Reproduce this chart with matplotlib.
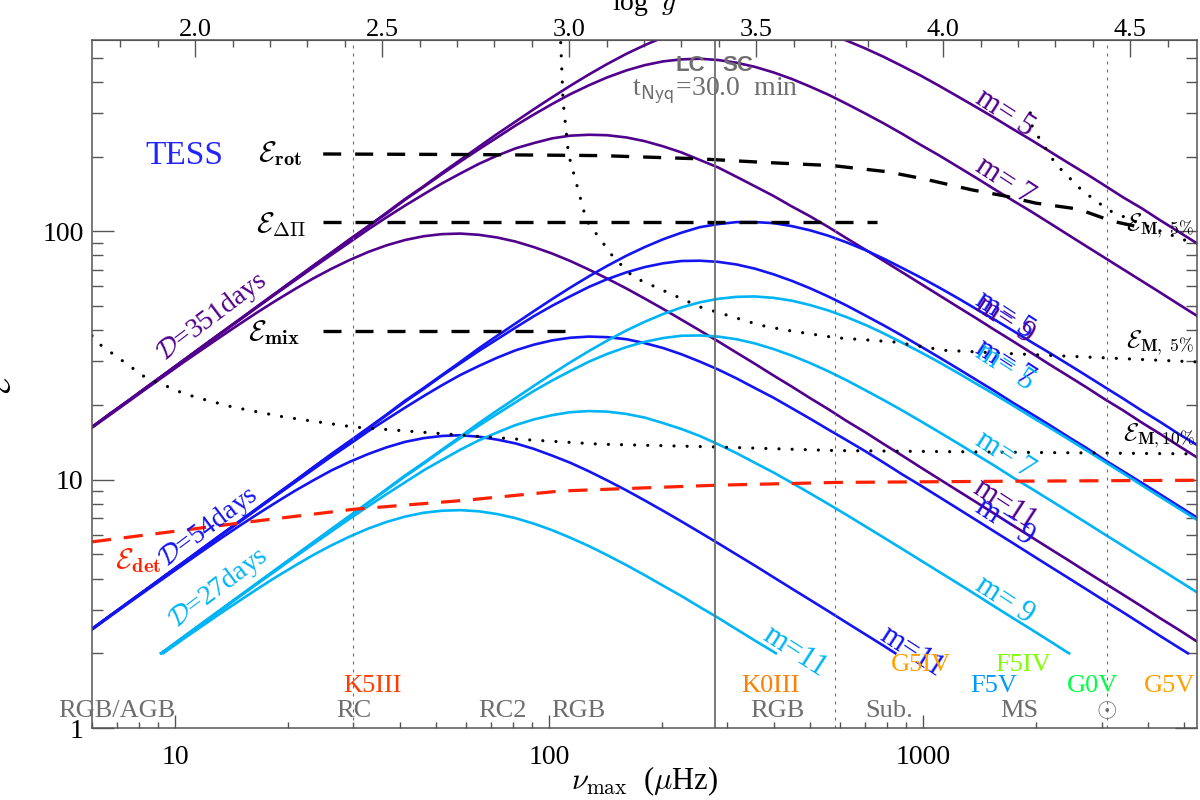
import numpy as np
import matplotlib
matplotlib.use('Agg')
import matplotlib.pyplot as plt
from matplotlib.ticker import FixedLocator, MultipleLocator, NullFormatter, FormatStrFormatter, LogLocator

plt.rcParams['font.family'] = ['Liberation Serif', 'DejaVu Serif']
plt.rcParams['mathtext.fontset'] = 'cm'

PURPLE = '#50008c'
BLUE = '#1414f0'
CYAN = '#00b4f5'
GRAY = '#6e6e6e'
AXC = '#555555'

# nu_max grid (muHz) on which the E curves were read
nu_grid = [6, 6.72, 7.53, 8.43, 9.44, 10.6, 11.8, 13.3, 14.9, 16.6, 18.6, 20.9, 23.4, 26.2, 29.3,
           32.9, 36.8, 41.2, 46.2, 51.7, 57.9, 64.9, 72.7, 81.4, 91.2, 102, 114, 128, 143, 161,
           180, 202, 226, 253, 283, 317, 355, 398, 446, 499, 559, 626, 702, 786, 880, 986, 1100,
           1240, 1390, 1550, 1740, 1950, 2180, 2440, 2740, 3060, 3430, 3840, 4300, 4820, 5400]

# D = 351 days
E_351_m5 = [16.3, 18.5, 20.9, 23.7, 26.8, 30.5, 34.3, 39.1, 44.3, 49.9, 56.5, 64.2, 72.7, 82.2, 92.9,
            105, 119, 135, 152, 172, 194, 219, 247, 277, 311, 347, 386, 429, 472, 519, 562, 605, 642,
            673, 696, 709, 711, 702, 684, 657, 624, 586, 545, 504, 463, 424, 387, 349, 316, 287, 258,
            233, 210, 189, 170, 153, 137, 124, 111, 99.7, 89.5]
E_351_m7 = [16.3, 18.5, 20.9, 23.7, 26.8, 30.4, 34.3, 39.1, 44.2, 49.8, 56.4, 64.1, 72.5, 82, 92.6,
            105, 118, 134, 151, 170, 191, 214, 239, 267, 296, 326, 357, 388, 417, 445, 467, 484, 493,
            496, 490, 478, 460, 437, 411, 383, 355, 326, 298, 272, 247, 223, 203, 182, 164, 148, 133,
            120, 108, 97, 86.9, 78.3, 70.3, 63.2, 56.8, 50.9, 45.7]
E_351_m9 = [16.3, 18.4, 20.9, 23.6, 26.8, 30.4, 34.2, 38.9, 44, 49.5, 56, 63.4, 71.5, 80.5, 90.4,
            102, 114, 127, 141, 156, 171, 187, 202, 216, 227, 237, 243, 245, 244, 239, 231, 220, 208,
            194, 181, 166, 152, 139, 126, 115, 104, 93.6, 84.3, 76, 68.4, 61.5, 55.5, 49.6, 44.6,
            40.2, 36.1, 32.4, 29.1, 26.2, 23.5, 21.1, 19, 17, 15.3, 13.7, 12.3]
E_351_m11 = [16.2, 18.3, 20.7, 23.4, 26.4, 29.9, 33.4, 37.8, 42.4, 47.2, 52.6, 58.5, 64.6, 70.7, 76.7,
             82.7, 87.9, 92.3, 95.6, 97.5, 98, 96.9, 94.5, 91, 86.4, 81.4, 76, 70.1, 64.6, 58.9, 53.7,
             48.7, 44.1, 39.9, 36.1, 32.5, 29.3, 26.3, 23.7, 21.3, 19.2, 17.2, 15.5, 13.9, 12.5, 11.2,
             10.1, 9.02, 8.1, 7.3, 6.54, 5.87, 5.28, 4.75, 4.25, 3.83, 3.44, 3.09, 2.77, 2.49, 2.23]

# D = 54 days
E_54_m5 = [2.51, 2.84, 3.22, 3.64, 4.13, 4.68, 5.28, 6.02, 6.82, 7.68, 8.70, 9.88, 11.2, 12.7, 14.3,
           16.2, 18.3, 20.8, 23.4, 26.4, 29.8, 33.8, 38.0, 42.6, 47.8, 53.4, 59.4, 66.0, 72.6, 79.8,
           86.4, 93.0, 98.8, 104, 107, 109, 109, 108, 105, 101, 96.0, 90.2, 84.0, 77.6, 71.2, 65.2,
           59.6, 53.8, 48.6, 44.2, 39.8, 35.8, 32.4, 29.2, 26.2, 23.6, 21.2, 19.0, 17.1, 15.3, 13.8]
E_54_m7 = [2.51, 2.84, 3.22, 3.64, 4.12, 4.68, 5.26, 6.00, 6.80, 7.66, 8.68, 9.86, 11.2, 12.6, 14.2,
           16.1, 18.2, 20.6, 23.2, 26.2, 29.4, 33.0, 36.8, 41.0, 45.6, 50.2, 54.8, 59.8, 64.2, 68.4,
           71.8, 74.4, 76.0, 76.2, 75.4, 73.6, 70.8, 67.2, 63.2, 59.0, 54.6, 50.2, 45.8, 41.8, 38.0,
           34.4, 31.2, 28.0, 25.2, 22.8, 20.4, 18.4, 16.6, 14.9, 13.4, 12.0, 10.8, 9.72, 8.74, 7.84, 7.04]
E_54_m9 = [2.5, 2.84, 3.21, 3.64, 4.12, 4.67, 5.25, 5.99, 6.77, 7.61, 8.61, 9.75, 11, 12.4, 13.9,
           15.7, 17.5, 19.5, 21.7, 24, 26.4, 28.7, 31, 33.2, 35, 36.4, 37.3, 37.7, 37.5, 36.8, 35.5,
           33.9, 32, 29.9, 27.8, 25.6, 23.4, 21.4, 19.4, 17.6, 15.9, 14.4, 13, 11.7, 10.5, 9.47, 8.55,
           7.64, 6.86, 6.19, 5.55, 4.98, 4.48, 4.03, 3.61, 3.25, 2.92, 2.62, 2.35, 2.11]
E_54_m11 = [2.49, 2.82, 3.19, 3.6, 4.06, 4.59, 5.14, 5.82, 6.53, 7.26, 8.09, 9.01, 9.93, 10.9, 11.8,
            12.7, 13.5, 14.2, 14.7, 15, 15.1, 14.9, 14.5, 14, 13.3, 12.5, 11.7, 10.8, 9.94, 9.06, 8.26,
            7.49, 6.79, 6.14, 5.55, 5, 4.51, 4.05, 3.64, 3.28, 2.95, 2.65, 2.38, 2.14]

# D = 27 days (from grid point 4 onwards)
E_27_m5 = [2.06, 2.34, 2.64, 3.01, 3.41, 3.84, 4.35, 4.94, 5.59, 6.33, 7.15, 8.11, 9.16, 10.4, 11.7,
           13.2, 14.9, 16.9, 19, 21.3, 23.9, 26.7, 29.7, 33, 36.3, 39.9, 43.2, 46.5, 49.4, 51.8, 53.5,
           54.5, 54.7, 54, 52.6, 50.5, 48, 45.1, 42, 38.8, 35.6, 32.6, 29.8, 26.9, 24.3, 22.1, 19.9,
           17.9, 16.2, 14.6, 13.1, 11.8, 10.6, 9.51, 8.54, 7.67, 6.89]
E_27_m7 = [2.06, 2.34, 2.63, 3, 3.4, 3.83, 4.34, 4.93, 5.58, 6.31, 7.12, 8.07, 9.11, 10.3, 11.6, 13.1,
           14.7, 16.5, 18.4, 20.5, 22.8, 25.1, 27.4, 29.9, 32.1, 34.2, 35.9, 37.2, 38, 38.1, 37.7,
           36.8, 35.4, 33.6, 31.6, 29.5, 27.3, 25.1, 22.9, 20.9, 19, 17.2, 15.6, 14, 12.6, 11.4, 10.2,
           9.2, 8.29, 7.46, 6.69, 6.02, 5.41, 4.86, 4.37, 3.92, 3.52]
E_27_m9 = [2.06, 2.34, 2.63, 2.99, 3.39, 3.81, 4.3, 4.88, 5.5, 6.19, 6.96, 7.83, 8.75, 9.76, 10.9, 12,
           13.2, 14.4, 15.5, 16.6, 17.5, 18.2, 18.7, 18.9, 18.8, 18.4, 17.8, 16.9, 16, 15, 13.9, 12.8,
           11.7, 10.7, 9.71, 8.81, 7.97, 7.2, 6.48, 5.84, 5.26, 4.73, 4.27, 3.82, 3.43, 3.09, 2.77,
           2.49, 2.24, 2.01]
E_27_m11 = [2.03, 2.3, 2.57, 2.91, 3.26, 3.63, 4.05, 4.5, 4.97, 5.44, 5.9, 6.36, 6.76, 7.1, 7.36, 7.5,
            7.54, 7.46, 7.27, 7, 6.65, 6.26, 5.84, 5.4, 4.97, 4.53, 4.13, 3.74, 3.4, 3.07, 2.78, 2.5,
            2.25, 2.03]

# curves stop at E = 2; nu_max where they reach it
E_CUT = 2.0
nu_start_27 = [9.18, 9.18, 9.19, 9.30]
nu_end_27 = [None, None, 2458, 404]
nu_end_54 = [None, None, 5104, 843]

nu_rot = [24.9, 60, 137, 253, 367, 574, 800, 1000, 1350, 1650, 2000, 2600, 3200, 3800]
E_rot = [205, 204, 202, 196, 190, 184, 174, 163, 147, 139, 130, 123, 110, 104]
nu_dpi = [24.9, 751]
E_dpi = [109, 109]
nu_mix = [24.9, 111]
E_mix = [39.6, 39.6]
nu_det = [6, 10, 15, 30, 60, 107, 137, 279, 585, 1710, 5400]
E_det = [5.62, 6.2, 6.7, 7.6, 8.27, 9.0, 9.13, 9.5, 9.75, 9.86, 9.95]
nu_m10 = [6, 6.34, 7.4, 8.4, 9.5, 10.5, 11.6, 14.3, 19.5, 30, 59, 80, 137, 279, 585, 1710, 5400]
E_m10 = [38, 34.8, 29.4, 25.6, 23.8, 22.3, 21.3, 19.6, 17.9, 16.3, 15.1, 14.6, 13.9, 13.55, 13.1, 12.9, 12.7]
nu_m5 = [107, 107.4, 109, 112.7, 125.9, 148.6, 168, 253.5, 367, 431, 585, 832, 1140, 1710, 5400]
E_m5 = [650, 590, 337, 205, 110.6, 78.8, 65.5, 49.6, 41.9, 40, 37.3, 35.9, 33.2, 32.2, 29.8]
nu_m5b = [1935, 1960, 2056, 2261, 2662, 3141, 3715, 5035, 5400]
E_m5b = [300, 263, 234, 187, 146, 121.5, 109, 92, 89.5]

nu_dotted = [30, 580, 3100]
nu_nyq = 277.8

pop_names = ['RGB/AGB', 'RC', 'RC2', 'RGB', 'RGB', 'Sub.', 'MS', r'$\odot$']
pop_nu = [7.0, 30, 75, 120, 407, 811, 1807, 3100]
sp_names = ['K5III', 'K0III', 'G5IV', 'F5IV', 'F5V', 'G0V', 'G5V']
sp_nu = [33.8, 390, 988, 1849, 1549, 2831, 4571]
sp_E = [1.476, 1.476, 1.79, 1.79, 1.476, 1.476, 1.476]
sp_col = ['#ff3c00', '#ff7f00', '#ffa000', '#80ff00', '#0099ff', '#00ff44', '#ffa000']


def series(E, first=0, start=None, end=None):
    x = list(nu_grid[first:first + len(E)])
    y = list(E)
    if start:
        x = [start] + x
        y = [E_CUT] + y
    if end:
        x = x + [end]
        y = y + [E_CUT]
    return x, y


fig = plt.figure(figsize=(12, 8), dpi=100)
ax = fig.add_axes([92/1200, 72/800, 1105/1200, 688/800])
ax.set_xscale('log')
ax.set_yscale('log')
ax.set_xlim(6, 5400)
ax.set_ylim(1, 590)

for E in [E_351_m5, E_351_m7, E_351_m9, E_351_m11]:
    ax.plot(*series(E), color=PURPLE, lw=1.9)
for E, b in zip([E_54_m5, E_54_m7, E_54_m9, E_54_m11], nu_end_54):
    ax.plot(*series(E, 0, None, b), color=BLUE, lw=1.9)
for E, a, b in zip([E_27_m5, E_27_m7, E_27_m9, E_27_m11], nu_start_27, nu_end_27):
    ax.plot(*series(E, 4, a, b), color=CYAN, lw=1.9)

dash = dict(color='k', lw=2.4, dashes=(5.4, 4.2))
ax.plot(nu_rot, E_rot, **dash)
ax.plot(nu_dpi, E_dpi, **dash)
ax.plot(nu_mix, E_mix, **dash)
ax.plot(nu_det, E_det, color='#ff2000', lw=2.3, dashes=(6, 4))
dot = dict(color='k', lw=2.3, dashes=(0.01, 4.1), dash_capstyle='round')
ax.plot(nu_m10, E_m10, **dot)
ax.plot(nu_m5, E_m5, **dot)
ax.plot(nu_m5b, E_m5b, **dot)

for v in nu_dotted:
    ax.axvline(v, color=GRAY, lw=0.8, dashes=(2.7, 4.5))
ax.axvline(nu_nyq, color=GRAY, lw=1.3)

# texts
ax.text(10.6, 202, 'TESS', color='#2323ff', fontsize=24, ha='center', va='center')
ax.text(238, 466, 'LC', color=GRAY, fontsize=16, fontweight='bold', family='Liberation Sans',
        ha='center', va='center')
ax.text(320, 466, 'SC', color=GRAY, fontsize=16, fontweight='bold', family='Liberation Sans',
        ha='center', va='center')
ax.text(nu_nyq, 366, r't$_{\mathsf{Nyq}}$=30.0  min', color=GRAY, fontsize=20, ha='center', va='center')

for txt, x, y, c in [(r'$\mathcal{D}$=351days', 12.6, 45, PURPLE),
                     (r'$\mathcal{D}$=54days', 12.3, 6.44, BLUE),
                     (r'$\mathcal{D}$=27days', 13.1, 3.66, CYAN)]:
    ax.text(x, y, txt, color=c, fontsize=20, rotation=37, ha='center', va='center',
            rotation_mode='anchor')

m_labels = [('m= 5', 1656, 301, PURPLE), ('m= 7', 1656, 159, PURPLE), ('m= 9', 1656, 44, PURPLE),
            ('m= 5', 1656, 46, BLUE), ('m= 7', 1656, 29.5, BLUE), ('m= 5', 1656, 28.3, CYAN),
            ('m= 7', 1656, 12.6, CYAN), ('m=11', 1656, 7.9, PURPLE), ('m= 9', 1656, 6.74, BLUE),
            ('m= 9', 1656, 3.27, CYAN), ('m=11', 935, 2.02, BLUE), ('m=11', 455, 2.02, CYAN)]
for txt, x, y, c in m_labels:
    ax.text(x, y, txt, color=c, fontsize=22, rotation=-33, ha='center', va='center',
            rotation_mode='anchor')

ax.text(21.9, 206, r'$\mathcal{E}_{\mathbf{rot}}$', fontsize=21, ha='right', va='center')
ax.text(22.4, 106.7, r'$\mathcal{E}_{\mathbf{\Delta\Pi}}$', fontsize=21, ha='right', va='center')
ax.text(21.6, 39.2, r'$\mathcal{E}_{\mathbf{mix}}$', fontsize=21, ha='right', va='center')
ax.text(6.92, 4.74, r'$\mathcal{E}_{\mathbf{det}}$', fontsize=21, color='#ff2000', ha='left', va='center')
ax.text(3480, 105.7, r'$\mathcal{E}_{\mathbf{M,\ 5\%}}$', fontsize=18, ha='left', va='center')
ax.text(3480, 35.8, r'$\mathcal{E}_{\mathbf{M,\ 5\%}}$', fontsize=18, ha='left', va='center')
ax.text(3420, 15.1, r'$\mathcal{E}_{\mathbf{M,10\%}}$', fontsize=18, ha='left', va='center')

for txt, x in zip(pop_names, pop_nu):
    ax.text(x, 1.17, txt, color=GRAY, fontsize=19, ha='center', va='center')
for txt, x, y, c in zip(sp_names, sp_nu, sp_E, sp_col):
    ax.text(x, y, txt, color=c, fontsize=19, ha='center', va='center')

# axes
ax.xaxis.set_major_locator(FixedLocator([10, 100, 1000]))
ax.xaxis.set_major_formatter(FormatStrFormatter('%d'))
ax.xaxis.set_minor_locator(LogLocator(subs=np.arange(2, 10)))
ax.xaxis.set_minor_formatter(NullFormatter())
ax.yaxis.set_major_locator(FixedLocator([1, 10, 100]))
ax.yaxis.set_major_formatter(FormatStrFormatter('%d'))
ax.yaxis.set_minor_locator(LogLocator(subs=np.arange(2, 10)))
ax.yaxis.set_minor_formatter(NullFormatter())
ax.tick_params(which='both', direction='in', top=False, right=True, color=AXC, width=1.0, labelsize=20)
ax.tick_params(axis='x', which='major', length=9.5, pad=12)
ax.tick_params(axis='x', which='minor', length=4.5)
ax.tick_params(axis='y', which='major', length=16, pad=6)
ax.tick_params(axis='y', which='minor', length=8)
for s in ax.spines.values():
    s.set_color(AXC)
    s.set_linewidth(1.1)

secax = ax.secondary_xaxis('top', functions=(lambda x: np.log10(x) + 0.946, lambda g: 10**(g - 0.946)))
secax.xaxis.set_major_locator(FixedLocator([2.0, 2.5, 3.0, 3.5, 4.0, 4.5]))
secax.xaxis.set_major_formatter(FormatStrFormatter('%.1f'))
secax.xaxis.set_minor_locator(MultipleLocator(0.1))
secax.xaxis.set_minor_formatter(NullFormatter())
secax.tick_params(which='both', direction='in', color=AXC, width=1.0, labelsize=19, pad=-0.5)
secax.tick_params(which='major', length=12)
secax.tick_params(which='minor', length=5)
secax.spines['top'].set_color(AXC)

ax.set_xlabel(r'$\nu_{\rm max}$  ($\mu$Hz)', fontsize=22, labelpad=-4)
ax.set_ylabel(r'$\mathcal{E}$', fontsize=22)
ax.yaxis.set_label_coords(-0.068, 0.5)
fig.text(644/1200, 1 - 4/800, r'log  $g$', fontsize=20, ha='center', va='center')

fig.savefig('out.png')
